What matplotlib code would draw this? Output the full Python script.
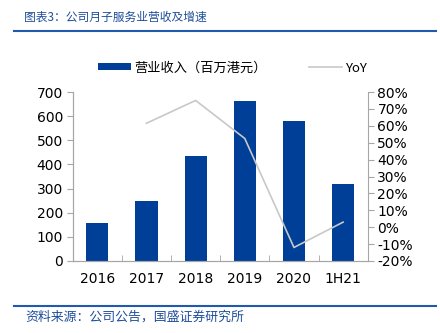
import matplotlib.pyplot as plt
import numpy as np
from matplotlib.ticker import FuncFormatter

plt.rcParams['font.family'] = ['DejaVu Sans', 'Noto Sans CJK SC']

# data
years = ['2016', '2017', '2018', '2019', '2020', '1H21']
revenue = [157, 250, 435, 662, 581, 318]      # 百万港元
yoy = [np.nan, 61.5, 75.0, 52.5, -12.0, 3.0]  # %

bar_color = '#003F98'
line_color = '#C8C8C8'
spine_color = '#A6A6A6'
title_color = '#1F4E9A'

fig = plt.figure(figsize=(4.4, 3.33), dpi=100)
ax = fig.add_axes([72.7 / 440, 1 - 261 / 333, (367.7 - 72.7) / 440, (261 - 92) / 333])
x = np.arange(len(years))
ax.bar(x, revenue, width=0.45, color=bar_color, label='营业收入（百万港元）', zorder=2)
ax.set_ylim(0, 700)
ax.set_yticks(range(0, 701, 100))
ax.set_xlim(-0.5, len(years) - 0.5)
ax.set_xticks(x)
ax.set_xticklabels(years)
ax.set_xticks(np.arange(-0.5, len(years), 1), minor=True)
ax.tick_params(axis='x', which='major', length=0, pad=8, labelsize=10)
ax.tick_params(axis='x', which='minor', length=4, direction='in', color=spine_color)
ax.tick_params(axis='y', length=4, color=spine_color, labelsize=10, pad=3)

ax2 = ax.twinx()
ax2.plot(x, yoy, color=line_color, lw=1.2, label='YoY', zorder=3)
ax2.set_ylim(-20, 80)
ax2.set_yticks(range(-20, 81, 10))
ax2.yaxis.set_major_formatter(FuncFormatter(lambda v, p: '%d%%' % v))
ax2.tick_params(axis='y', length=4, color=spine_color, labelsize=10, pad=3)

for a in (ax, ax2):
    a.spines['top'].set_visible(False)
    for s in ('left', 'right', 'bottom'):
        a.spines[s].set_color(spine_color)
ax.spines['right'].set_visible(False)

h1, l1 = ax.get_legend_handles_labels()
h2, l2 = ax2.get_legend_handles_labels()
fig.legend(h1 + h2, l1 + l2, loc='center', bbox_to_anchor=(0.528, 1 - 68 / 333),
           ncol=2, frameon=False, columnspacing=3.2, handletextpad=0.25,
           handlelength=2.5, handleheight=0.45,
           prop={'family': ['Noto Sans CJK SC', 'DejaVu Sans'], 'size': 9.5})

fig.text(24 / 440, 1 - 17 / 333, '图表3：公司月子服务业营收及增速', color=title_color,
         fontsize=8.5, style='italic', va='center', family=['Noto Sans CJK SC'])
fig.add_artist(plt.Line2D([14 / 440, 436 / 440], [1 - 31 / 333] * 2, color='#1F5AAE', lw=1.5))
fig.add_artist(plt.Line2D([14 / 440, 436 / 440], [1 - 305.5 / 333] * 2, color='#1F5AAE', lw=1.5))
fig.text(25 / 440, 1 - 317 / 333, '资料来源：公司公告，国盛证券研究所', color=title_color,
         fontsize=9.3, style='italic', va='center', family=['Noto Sans CJK SC'])

fig.savefig('out.png', dpi=100)
